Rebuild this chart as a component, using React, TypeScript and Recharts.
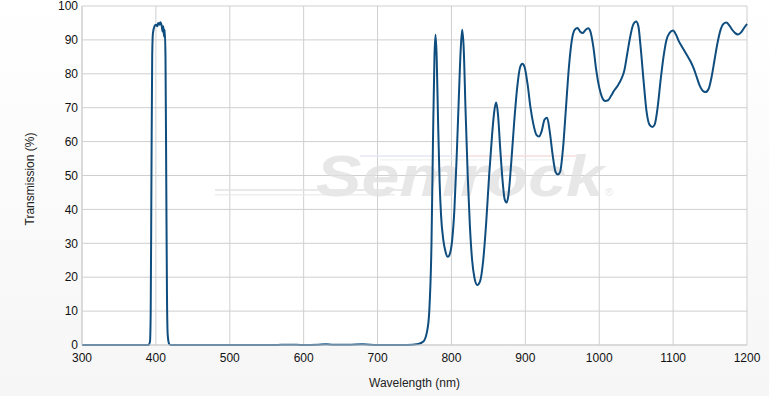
import React from 'react';
import { LineChart, Line, XAxis, YAxis, CartesianGrid, Customized } from 'recharts';

const wavelengths: number[] = [
  300, 390, 392, 393, 394, 395, 396, 398, 400, 402, 403, 405, 406, 408, 409, 410, 411, 412, 413, 414, 415, 416, 418,
  420, 560, 580, 600, 620, 630, 640, 660, 680, 700, 740, 755, 762, 767, 770, 773, 775, 777, 778.5, 780, 782, 784, 786,
  789, 792, 795, 798, 801, 804, 807, 810, 812.5, 814.5, 816.5, 819, 822, 825, 828, 831, 835, 839, 843, 847, 851,
  855, 858, 860.5, 863, 866, 869, 872, 874.5, 877, 881, 885, 889, 893, 896, 899, 903, 907, 911, 915, 918.5, 922,
  926, 929.5, 933, 937, 941, 944, 947, 951, 955, 959, 963, 967, 970.5, 974, 977.5, 981, 985, 988, 992, 996, 1000,
  1004, 1008, 1012, 1016, 1020, 1025, 1030, 1034, 1038, 1042, 1046, 1050, 1053, 1056, 1060, 1064, 1068, 1072, 1075,
  1079, 1083, 1087, 1091, 1095, 1100, 1104, 1108, 1112, 1116, 1120, 1124, 1128, 1132, 1136, 1140, 1144, 1148, 1152,
  1156, 1160, 1164, 1168, 1172, 1176, 1180, 1184, 1188, 1192, 1196, 1200,
];

const transmission: number[] = [
  0, 0, 1, 10, 50, 85, 92, 94, 94.5, 94, 95, 94.5, 95.2, 94, 92.5, 94, 91, 93, 85, 50, 15, 3, 0.3,
  0, 0, 0.1, 0, 0.1, 0.2, 0.1, 0.1, 0.2, 0, 0, 0.3, 1, 4, 10, 30, 60, 85, 91.5, 85, 65, 48, 38,
  31, 27.5, 26, 27, 31, 40, 55, 73, 87, 93, 88, 70, 50, 35, 25, 20, 17.7, 19, 25, 36, 50,
  62, 69, 71.5, 68, 58, 49, 43, 42, 44, 54, 66, 76, 82, 83, 82, 77, 70, 65, 62, 61.5, 63,
  66.5, 67, 63, 56, 51, 50.3, 51, 58, 70, 82, 90, 93, 93.5, 92.5, 92, 92.8, 93.4, 92.5, 88, 81, 76,
  73, 72, 72.2, 73.5, 75, 76.5, 78.5, 81, 86, 91, 94.5, 95.4, 94, 88, 78, 69, 65, 64.3, 65,
  70, 78, 85, 90, 92, 92.8, 91.5, 89.5, 88, 86.5, 85, 83.5, 81.5, 79, 76.5, 75, 74.6, 75.5, 79,
  84, 89, 92.8, 94.7, 95.1, 94.3, 93, 92, 91.6, 92.2, 93.5, 94.7,
];

const xTicks: number[] = [300, 400, 500, 600, 700, 800, 900, 1000, 1100, 1200];
const yTicks: number[] = [0, 10, 20, 30, 40, 50, 60, 70, 80, 90, 100];

const data = wavelengths.map((w, i) => ({ w, t: transmission[i] }));

const FONT = '"Liberation Sans", Arial, sans-serif';

const Watermark = () => (
  <g pointerEvents="none" opacity={0.75}>
    <rect x={215} y={189} width={190} height={2} fill="#e2e2e2" />
    <rect x={215} y={194} width={180} height={1.5} fill="#e8e8e8" />
    <rect x={360} y={155} width={110} height={2} fill="#e6e8f6" />
    <rect x={470} y={155} width={110} height={2} fill="#f8dede" />
    <rect x={380} y={159} width={190} height={1.5} fill="#eef2ea" />
    <text
      x={316}
      y={196}
      fontFamily={FONT}
      fontStyle="italic"
      fontWeight="bold"
      fontSize={58}
      fill="#e0e0e0"
      textLength={288}
      lengthAdjust="spacingAndGlyphs"
    >
      Semrock
    </text>
    <text x={605} y={196} fontFamily={FONT} fontSize={11} fill="#e0e0e0">®</text>
  </g>
);

export default function App() {
  return (
    <div
      style={{
        position: 'absolute',
        left: 0,
        top: 0,
        width: 769,
        height: 396,
        background: 'linear-gradient(to bottom, #ffffff 0%, #f6f6f6 100%)',
      }}
    >
      <LineChart width={769} height={396} data={data} margin={{ top: 6, right: 22, bottom: 0, left: 0 }}>
        <CartesianGrid stroke="#cfcfcf" strokeWidth={1} fill="#ffffff" />
        <Customized component={Watermark} />
        <XAxis
          dataKey="w"
          type="number"
          domain={[300, 1200]}
          ticks={xTicks}
          height={51}
          tickLine={false}
          axisLine={{ stroke: '#cfcfcf' }}
          tick={{ fontSize: 12, fill: '#111', fontFamily: FONT }}
          tickMargin={2}
          label={{ value: 'Wavelength (nm)', position: 'insideBottom', offset: 9, fontSize: 12, fill: '#222', fontFamily: FONT }}
          interval={0}
        />
        <YAxis
          type="number"
          domain={[0, 100]}
          ticks={yTicks}
          width={82}
          tickLine={false}
          axisLine={{ stroke: '#cfcfcf' }}
          tickSize={2}
          tickMargin={2}
          tick={{ fontSize: 12, fill: '#111', fontFamily: FONT }}
          label={{ value: 'Transmission (%)', angle: -90, position: 'insideLeft', offset: 30, dy: 50, fontSize: 12, fill: '#222', fontFamily: FONT }}
          interval={0}
        />
        <Line
          type="monotone"
          dataKey="t"
          stroke="#0f4d7e"
          strokeWidth={2}
          dot={false}
          isAnimationActive={false}
        />
      </LineChart>
    </div>
  );
}
